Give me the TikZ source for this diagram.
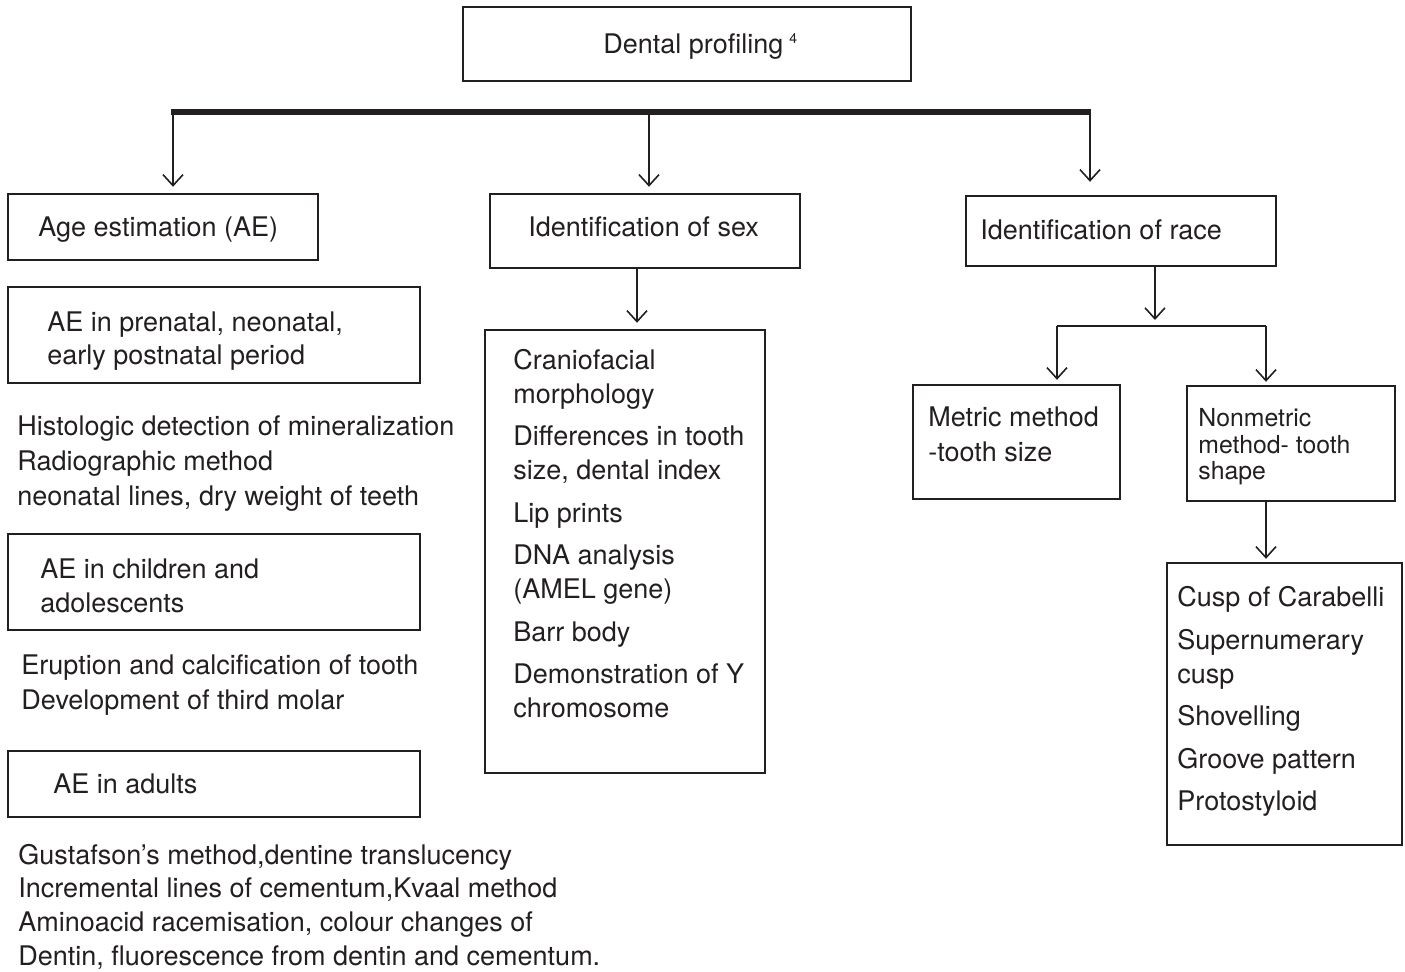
\documentclass[tikz,border=0pt]{standalone}
\usepackage{fontspec}
\setmainfont{TeX Gyre Heros}
\usetikzlibrary{arrows.meta,fit,calc}
\definecolor{ink}{HTML}{231F20}
\begin{document}
\begin{tikzpicture}[x=0.5pt,y=-0.5pt,
  box/.style={draw=ink, line width=1.2pt, inner sep=0pt, rectangle},
  txt/.style={text=ink, anchor=base west, inner sep=0pt, align=left, font=\fontsize{13.5}{17}\selectfont},
  arr/.style={draw=ink, line width=0.8pt, -{Straight Barb[length=5.5pt,width=10pt,line width=0.8pt]}},
]
\useasboundingbox (0,0) rectangle (1405,972);
% boxes
\node[box, fit={(463,7) (911,81)}] (top) {};
\node[box, fit={(8,194) (318,260)}] (age) {};
\node[box, fit={(490,194) (800,268)}] (sex) {};
\node[box, fit={(966,196) (1276,266)}] (race) {};
\node[box, fit={(8,287) (420,383)}] (prenatal) {};
\node[box, fit={(8,534) (420,630)}] (children) {};
\node[box, fit={(8,751) (420,817)}] (adults) {};
\node[box, fit={(485,330) (765,773)}] (sexlist) {};
\node[box, fit={(913,385) (1120,499)}] (metric) {};
\node[box, fit={(1187,386) (1395,501)}] (nonmetric) {};
\node[box, fit={(1167,563) (1402,845)}] (cusp) {};
% texts (anchor = baseline of the last line)
\node[txt] (t-top) at (603,54) {Dental profiling\hspace{3pt}\raisebox{0.75ex}{\fontsize{7}{8}\selectfont 4}};
\node[txt] (t-age) at (38,237) {Age estimation (AE)};
\node[txt] (t-sex) at (528,237) {Identification of sex};
\node[txt] (t-race) at (980,240) {Identification of race};
\node[txt, font=\fontsize{13.5}{16.5}\selectfont] (t-pre) at (47,365) {AE in prenatal, neonatal,\\early postnatal period};
\node[txt, font=\fontsize{13.5}{17.5}\selectfont] (t-hist) at (17,506) {Histologic detection of mineralization\\Radiographic method\\neonatal lines, dry weight of teeth};
\node[txt] (t-chi) at (40,613) {AE in children and\\adolescents};
\node[txt, font=\fontsize{13.5}{17.5}\selectfont] (t-erup) at (21,710) {Eruption and calcification of tooth\\Development of third molar};
\node[txt] (t-adu) at (53,794) {AE in adults};
\node[txt, font=\fontsize{13.5}{17}\selectfont] (t-gus) at (18,966) {Gustafson’s method,dentine translucency\\Incremental lines of cementum,Kvaal method\\Aminoacid racemisation, colour changes of\\Dentin, fluorescence from dentin and cementum.};
\node[txt] (t-sexlist) at (513,718) {Craniofacial\\morphology\\[4.25pt]Differences in tooth\\size, dental index\\[4.25pt]Lip prints\\[4.25pt]DNA analysis\\(AMEL gene)\\[4.25pt]Barr body\\[4.25pt]Demonstration of Y\\chromosome};
\node[txt, font=\fontsize{13.5}{17.5}\selectfont] (t-met) at (928,462) {Metric method\\-tooth size};
\node[txt, font=\fontsize{12.4}{13.25}\selectfont] (t-nonmet) at (1198,480) {Nonmetric\\method- tooth\\shape};
\node[txt] (t-cusp) at (1177,811) {Cusp of Carabelli\\[4.25pt]Supernumerary\\cusp\\[4.25pt]Shovelling\\[4.25pt]Groove pattern\\[4.25pt]Protostyloid};
% connectors
\coordinate (barL) at (171,112);
\coordinate (barR) at (1091,112);
\draw[draw=ink, line width=2.6pt] (barL) -- (barR);
\coordinate (a1) at (173,113);
\coordinate (a2) at (649,113);
\coordinate (a3) at (1090,113);
\draw[arr, shorten >=3pt] (a1) -- (a1 |- age.north);
\draw[arr, shorten >=3pt] (a2) -- (a2 |- sex.north);
\draw[arr, shorten >=6.5pt] (a3) -- (a3 |- race.north);
\coordinate (sx) at (637,0);
\draw[arr, shorten >=3pt] (sex.south -| sx) -- (sexlist.north -| sx);
\coordinate (rx) at (1155,0);
\coordinate (split) at (1155,326);
\coordinate (splitL) at (1057,326);
\coordinate (splitR) at (1266,326);
\draw[arr, line width=1pt, shorten >=3pt] (race.south -| rx) -- (split);
\draw[draw=ink, line width=1pt] (splitL) -- (splitR);
\draw[arr, line width=1pt, shorten >=2pt] (splitL) -- (metric.north -| splitL);
\draw[arr, line width=1pt, shorten >=1.5pt] (splitR) -- (nonmetric.north -| splitR);
\coordinate (nx) at (1266,0);
\draw[arr, line width=1pt, shorten >=1.5pt] (nonmetric.south -| nx) -- (cusp.north -| nx);
\end{tikzpicture}
\end{document}
